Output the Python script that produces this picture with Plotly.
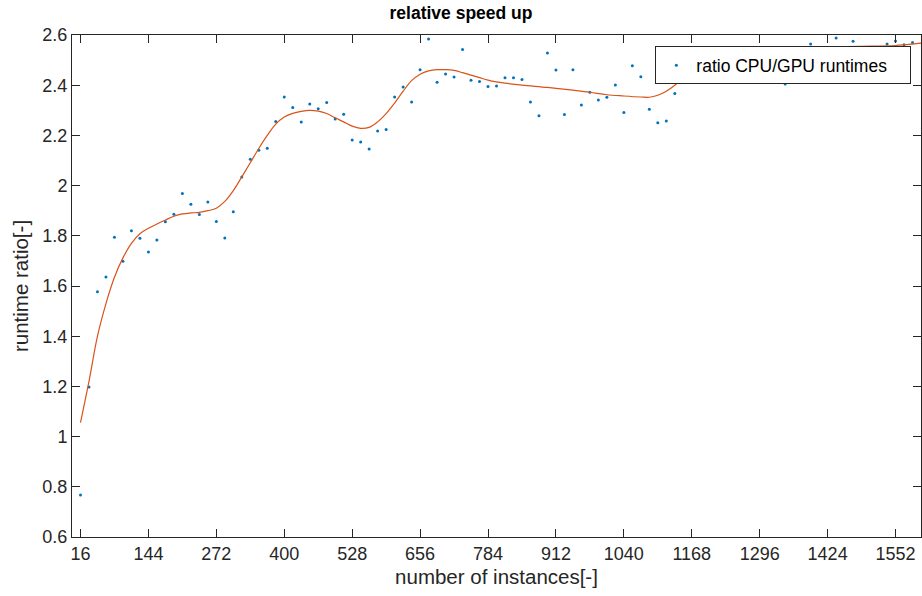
import plotly.graph_objects as go

# measured speed-up ratio, one sample every 16 instances
instances = list(range(16, 1601, 16))
ratio = [
    0.767, 1.198, 1.577, 1.636, 1.794, 1.699, 1.820, 1.790, 1.735, 1.783,
    1.856, 1.886, 1.969, 1.926, 1.885, 1.935, 1.857, 1.791, 1.896, 2.034,
    2.105, 2.141, 2.149, 2.255, 2.353, 2.311, 2.253, 2.325, 2.306, 2.331,
    2.265, 2.284, 2.182, 2.174, 2.146, 2.218, 2.224, 2.353, 2.393, 2.333,
    2.462, 2.584, 2.412, 2.445, 2.433, 2.542, 2.420, 2.415, 2.395, 2.397,
    2.430, 2.430, 2.423, 2.333, 2.278, 2.528, 2.461, 2.283, 2.462, 2.321,
    2.372, 2.341, 2.352, 2.401, 2.291, 2.477, 2.434, 2.304, 2.250, 2.257,
    2.367, 2.520, 2.480, 2.610, 2.500, 2.550, 2.490, 2.630, 2.530, 2.510,
    2.620, 2.540, 2.500, 2.405, 2.550, 2.520, 2.564, 2.610, 2.530, 2.588,
    2.540, 2.575, 2.620, 2.550, 2.520, 2.564, 2.576, 2.561, 2.570, 2.620,
]

# smoothed trend of the ratio
fit_x = [16, 32, 48, 64, 80, 96, 112, 128, 144, 160, 176, 192, 208, 224, 240,
         256, 272, 288, 304, 320, 336, 352, 368, 384, 400, 416, 432, 448, 464,
         480, 496, 512, 528, 544, 560, 576, 592, 608, 624, 640, 656, 672, 688,
         704, 720, 736, 752, 768, 784, 800, 816, 848, 896, 944, 976, 1008,
         1040, 1072, 1088, 1104, 1120, 1136, 1152, 1168, 1200, 1248, 1296,
         1360, 1424, 1488, 1552, 1584, 1600]
fit_y = [1.056, 1.22, 1.40, 1.53, 1.635, 1.712, 1.770, 1.808, 1.830, 1.847,
         1.863, 1.878, 1.887, 1.891, 1.893, 1.900, 1.910, 1.937, 1.980, 2.035,
         2.091, 2.148, 2.200, 2.245, 2.273, 2.288, 2.296, 2.300, 2.297, 2.287,
         2.270, 2.254, 2.237, 2.228, 2.232, 2.254, 2.287, 2.329, 2.376, 2.418,
         2.444, 2.457, 2.462, 2.462, 2.459, 2.450, 2.440, 2.430, 2.420, 2.413,
         2.408, 2.400, 2.391, 2.380, 2.372, 2.362, 2.357, 2.353, 2.352, 2.360,
         2.376, 2.400, 2.430, 2.460, 2.500, 2.530, 2.545, 2.550, 2.553, 2.555,
         2.558, 2.564, 2.568]

x_ticks = list(range(16, 1601, 128))
y_ticks = [0.6, 0.8, 1.0, 1.2, 1.4, 1.6, 1.8, 2.0, 2.2, 2.4, 2.6]
y_labels = ["0.6", "0.8", "1", "1.2", "1.4", "1.6", "1.8", "2", "2.2", "2.4", "2.6"]

FONT = "Liberation Sans, Arial, Helvetica, sans-serif"
AX = "#262626"

fig = go.Figure()
fig.add_trace(go.Scatter(
    x=instances, y=ratio, mode="markers", name="ratio CPU/GPU runtimes",
    marker=dict(color="#0072BD", size=3, line=dict(width=0)),
))
fig.add_trace(go.Scatter(
    x=fit_x, y=fit_y, mode="lines", showlegend=False,
    line=dict(color="#D95319", width=1.2, shape="spline", smoothing=1.0),
))

axis_common = dict(
    showline=True, linecolor=AX, linewidth=1, mirror="ticks",
    ticks="inside", ticklen=8, tickcolor=AX, tickwidth=1,
    showgrid=False, zeroline=False,
    tickfont=dict(family=FONT, size=18, color=AX),
)

fig.update_layout(
    width=922, height=596,
    margin=dict(l=72, r=1, t=35, b=59),
    paper_bgcolor="white", plot_bgcolor="white",
    title=dict(text="<b>relative speed up</b>", x=0.5, xanchor="center",
               y=0.988, yanchor="top",
               font=dict(family=FONT, size=17.5, color="black")),
    xaxis=dict(range=[0, 1600], tickvals=x_ticks,
               title=dict(text="number of instances[-]", standoff=7,
                          font=dict(family=FONT, size=20.5, color=AX)),
               **axis_common),
    yaxis=dict(range=[0.6, 2.6], tickvals=y_ticks, ticktext=y_labels,
               title=dict(text="runtime ratio[-]", standoff=8,
                          font=dict(family=FONT, size=20.5, color=AX)),
               **axis_common),
    legend=dict(x=0.9886, xanchor="right", y=0.9775, yanchor="top",
                orientation="h", entrywidth=209, entrywidthmode="pixels",
                bgcolor="white", bordercolor=AX, borderwidth=1,
                font=dict(family=FONT, size=17.5, color="black")),
    showlegend=True,
)

fig.write_html("out.html")
